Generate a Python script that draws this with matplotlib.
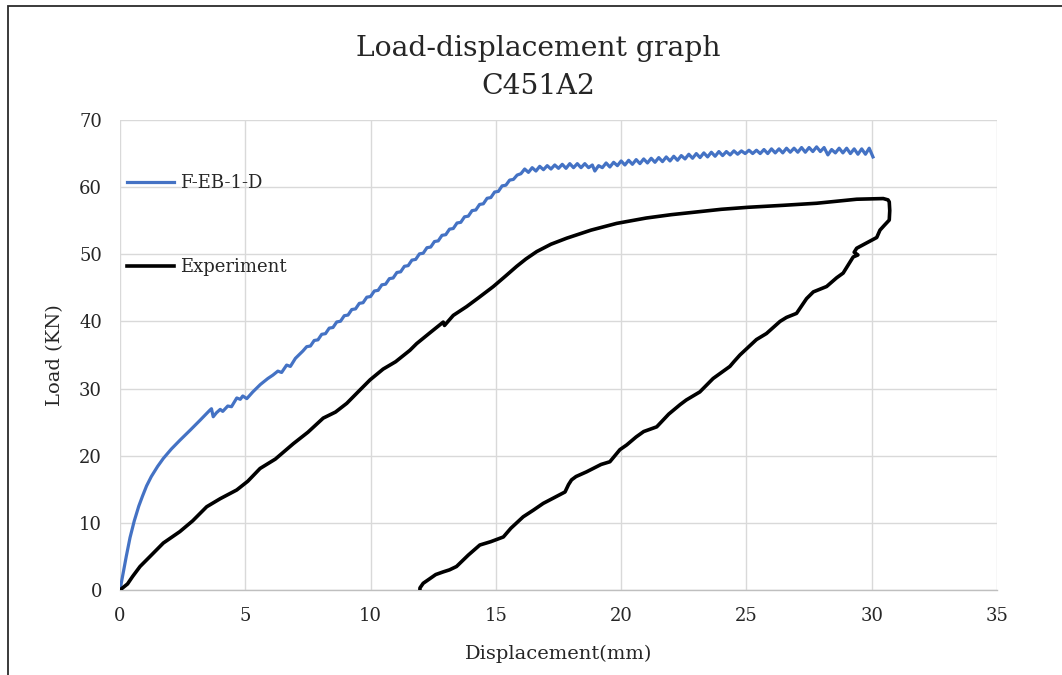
import matplotlib
matplotlib.use("Agg")
import matplotlib.pyplot as plt
from matplotlib.patches import Rectangle

plt.rcParams['font.family'] = ['DejaVu Serif']

# ---------------- data ----------------
title_lines = ["Load-displacement graph", "C451A2"]
x_label = "Displacement(mm)"
y_label = "Load (KN)"
x_ticks = [0, 5, 10, 15, 20, 25, 30, 35]
y_ticks = [0, 10, 20, 30, 40, 50, 60, 70]
series_names = ["F-EB-1-D", "Experiment"]

feb_x = [0, 0.1, 0.25, 0.4, 0.57, 0.75, 0.9, 1.06, 1.25, 1.5, 1.73, 2.05, 2.39, 2.8,
         3.2, 3.59, 3.65,
         3.72, 3.85, 4.0, 4.1, 4.3, 4.45, 4.66, 4.8, 4.9, 5.06, 5.3, 5.6, 5.9, 6.1,
         6.3, 6.45, 6.65, 6.8, 7.0, 7.3,
         7.45, 7.60, 7.75, 7.90, 8.05, 8.20, 8.35, 8.50, 8.65, 8.80, 8.95, 9.10,
         9.25, 9.40, 9.55, 9.70, 9.85, 10.00, 10.15, 10.30, 10.45, 10.60, 10.75,
         10.90, 11.05, 11.20, 11.35, 11.50, 11.65, 11.80, 11.95, 12.10, 12.25,
         12.40, 12.55, 12.70, 12.85, 13.00, 13.15, 13.30, 13.45, 13.60, 13.75,
         13.90, 14.05, 14.20, 14.35, 14.50, 14.65, 14.80, 14.95, 15.10, 15.25,
         15.40, 15.55, 15.70, 15.85, 16.00,
         16.15, 16.30, 16.45, 16.60, 16.75, 16.90, 17.05, 17.20, 17.35, 17.50, 17.65,
         17.80, 17.95, 18.10, 18.25, 18.40, 18.55, 18.70, 18.85, 18.95, 19.10, 19.25,
         19.40, 19.55, 19.70, 19.85, 20.00, 20.15, 20.30, 20.45, 20.60, 20.75, 20.90,
         21.05, 21.20, 21.35, 21.50, 21.65, 21.80, 21.95, 22.10, 22.25, 22.40, 22.55,
         22.70, 22.85, 23.00, 23.15, 23.30, 23.45, 23.60, 23.75, 23.90, 24.05, 24.20,
         24.35, 24.50, 24.65, 24.80, 24.95, 25.10, 25.25, 25.40, 25.55, 25.70, 25.85,
         26.00, 26.15, 26.30, 26.45, 26.60, 26.75, 26.90, 27.05, 27.20, 27.35, 27.50,
         27.65, 27.80, 27.95, 28.10, 28.25, 28.40, 28.55, 28.70, 28.85, 29.00, 29.15,
         29.30, 29.45, 29.60, 29.75, 29.90, 30.05]
feb_y = [0, 2.0, 5.0, 7.8, 10.3, 12.5, 14.0, 15.5, 16.9, 18.4, 19.6, 21.0, 22.3, 23.8,
         25.3, 26.8, 27.0,
         25.8, 26.4, 26.9, 26.6, 27.4, 27.3, 28.6, 28.4, 28.9, 28.5, 29.5, 30.6, 31.5, 32.0,
         32.6, 32.4, 33.5, 33.3, 34.5, 35.6,
         36.24, 36.34, 37.16, 37.26, 38.08, 38.18, 39.00, 39.10, 39.92, 40.03, 40.85,
         40.95, 41.77, 41.87, 42.69, 42.79, 43.61, 43.71, 44.53, 44.63, 45.45, 45.55,
         46.37, 46.47, 47.29, 47.39, 48.21, 48.31, 49.13, 49.24, 50.06, 50.16, 50.98,
         51.08, 51.90, 52.00, 52.82, 52.92, 53.74, 53.84, 54.66, 54.76, 55.58, 55.68,
         56.50, 56.60, 57.42, 57.52, 58.34, 58.45, 59.27, 59.37, 60.19, 60.29, 61.05,
         61.15, 61.8, 62.0,
         62.7, 62.2, 62.9, 62.4, 63.1, 62.6, 63.2, 62.7, 63.3, 62.8, 63.4,
         62.8, 63.5, 62.9, 63.5, 62.9, 63.5, 62.9, 63.3, 62.4, 63.2, 62.9,
         63.6, 63.0, 63.7, 63.2, 63.9, 63.3, 64.0, 63.4, 64.1, 63.5, 64.2,
         63.6, 64.3, 63.7, 64.4, 63.8, 64.5, 63.9, 64.6, 64.0, 64.7, 64.2,
         64.9, 64.3, 65.0, 64.4, 65.1, 64.5, 65.2, 64.6, 65.3, 64.7, 65.3,
         64.8, 65.4, 64.9, 65.4, 65.0, 65.5, 65.0, 65.5, 65.0, 65.6, 65.0,
         65.7, 65.1, 65.7, 65.1, 65.8, 65.2, 65.8, 65.2, 65.9, 65.2, 65.9,
         65.3, 66.0, 65.3, 65.9, 64.8, 65.6, 65.1, 65.8, 65.1, 65.8, 65.0,
         65.7, 64.9, 65.7, 64.9, 65.8, 64.5]

exp_x = [0, 0.3, 0.5, 0.8, 1.2, 1.73, 2.39, 2.9, 3.46, 4.0, 4.66, 5.1, 5.59, 6.2, 6.92,
         7.5, 8.11, 8.6, 9.05, 9.5, 9.98, 10.5, 11.0, 11.57, 11.84, 12.4, 12.9, 12.95,
         13.3, 13.83, 14.3, 14.9, 15.4, 15.83, 16.2, 16.63, 17.2, 17.83, 18.8, 19.82,
         21.0, 22.0, 23.0, 24.0, 25.07, 26.5, 27.8, 28.6, 29.4, 30.46, 30.65, 30.7,
         30.72, 30.7, 30.5, 30.33, 30.2, 29.8, 29.4, 29.3, 29.45, 29.26, 28.86, 28.6,
         28.2, 27.67, 27.4, 27.0, 26.6, 26.34, 25.8, 25.4, 24.74, 24.5, 24.34, 23.67,
         23.14, 22.6, 22.35, 21.9, 21.42, 20.9, 20.6, 20.22, 19.95, 19.55, 19.2, 18.62,
         18.2, 18.02, 17.9, 17.76, 17.3, 16.89, 16.5, 16.09, 15.6, 15.3, 14.8, 14.36,
         13.9, 13.43, 13.15, 12.9, 12.6, 12.37, 12.1, 11.97, 11.97]
exp_y = [0, 0.9, 2.0, 3.5, 5.0, 7.0, 8.7, 10.3, 12.4, 13.6, 14.9, 16.2, 18.1, 19.5, 21.8,
         23.5, 25.6, 26.5, 27.8, 29.5, 31.3, 32.9, 34.0, 35.7, 36.7, 38.4, 39.9, 39.4,
         40.9, 42.2, 43.5, 45.2, 46.8, 48.2, 49.3, 50.4, 51.5, 52.4, 53.6, 54.6,
         55.4, 55.9, 56.3, 56.7, 57.0, 57.3, 57.6, 57.9, 58.2, 58.3, 58.1, 57.8,
         56.5, 55.1, 54.3, 53.6, 52.5, 51.7, 50.9, 50.3, 49.9, 49.6, 47.2, 46.5,
         45.2, 44.4, 43.4, 41.2, 40.6, 40.0, 38.2, 37.3, 35.0, 34.0, 33.3, 31.5,
         29.5, 28.3, 27.6, 26.2, 24.3, 23.6, 22.8, 21.6, 20.9, 19.1, 18.7, 17.6,
         16.9, 16.4, 15.7, 14.6, 13.7, 12.9, 11.9, 10.9, 9.2, 7.9, 7.2, 6.7,
         5.2, 3.5, 3.0, 2.7, 2.3, 1.7, 1.0, 0.3, 0.0]

# ---------------- figure ----------------
W, H = 1062, 675
fig = plt.figure(figsize=(W / 100, H / 100), dpi=100)
fig.patch.set_facecolor("white")

# outer chart border (only left/top edges visible in the crop)
fig.patches.append(Rectangle((8 / W, -0.2), 1.3, 1.2 - 6 / H, transform=fig.transFigure,
                             fill=False, edgecolor="#2b2b2b", linewidth=1.3))

L, R, T, B = 120, 997, 120, 590
ax = fig.add_axes([L / W, 1 - B / H, (R - L) / W, (B - T) / H])

ax.plot(feb_x, feb_y, color="#4472C4", linewidth=2.3, label=series_names[0],
        solid_joinstyle="round", zorder=3)
ax.plot(exp_x, exp_y, color="black", linewidth=2.6, label=series_names[1],
        solid_joinstyle="round", zorder=3)

ax.set_xlim(0, 35)
ax.set_ylim(0, 70)
ax.set_xticks(x_ticks)
ax.set_yticks(y_ticks)
ax.grid(True, color="#d9d9d9", linewidth=1.0)
ax.set_axisbelow(True)
for s in ["left", "right", "top"]:
    ax.spines[s].set_visible(False)
ax.spines["bottom"].set_color("#bfbfbf")
ax.spines["bottom"].set_linewidth(1.0)
ax.tick_params(axis="both", length=0, labelsize=13, colors="#262626")
ax.tick_params(axis="x", pad=12)
ax.tick_params(axis="y", pad=13)

ax.set_xlabel(x_label, fontsize=14, color="#262626", labelpad=14.5)
ax.set_ylabel(y_label, fontsize=14, color="#262626", labelpad=11)

fig.text(538 / W, 1 - 48 / H, title_lines[0], ha="center", va="center",
         fontsize=20.3, color="#262626")
fig.text(538 / W, 1 - 86 / H, title_lines[1], ha="center", va="center",
         fontsize=20.3, color="#262626")

leg = ax.legend(loc="upper left", bbox_to_anchor=(0.008, 0.885), frameon=False,
                fontsize=13, handlelength=2.6, handletextpad=0.35,
                labelspacing=3.65, borderpad=0, borderaxespad=0)
for t in leg.get_texts():
    t.set_color("#262626")

fig.savefig("out.png", dpi=100, facecolor="white")
